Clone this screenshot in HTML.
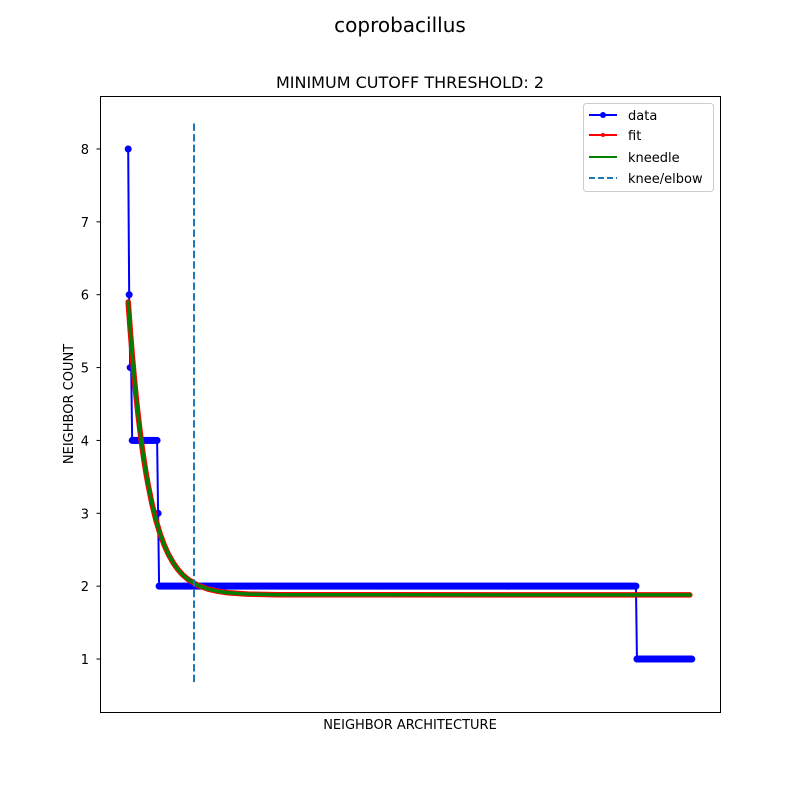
<!DOCTYPE html>
<html><head><meta charset="utf-8"><style>
body{margin:0;background:#fff}
svg{display:block;font-family:"DejaVu Sans","Liberation Sans",sans-serif}
</style></head><body>
<svg id="chart" width="800" height="800" viewBox="0 0 800 800">
<rect width="800" height="800" fill="#fff"/>
<text x="400" y="32" font-size="20" text-anchor="middle">coprobacillus</text>
<text x="410" y="88" font-size="16" text-anchor="middle">MINIMUM CUTOFF THRESHOLD: 2</text>
<g id="marks"></g>
<rect x="100.5" y="96.5" width="620" height="616" fill="none" stroke="#000" stroke-width="1"/>
<g id="yticks"></g>
<text x="410" y="729" font-size="13" text-anchor="middle">NEIGHBOR ARCHITECTURE</text>
<text transform="translate(73,404) rotate(-90)" font-size="13" text-anchor="middle">NEIGHBOR COUNT</text>
<g>
<rect x="583.5" y="103.5" width="130" height="88" rx="3" fill="#fff" stroke="#ccc"/>
<g><line x1="589" y1="115" x2="617" y2="115" stroke="blue" stroke-width="2"/><circle cx="603" cy="115" r="3" fill="blue"/><text x="628" y="120" font-size="13">data</text></g>
<g><line x1="589" y1="135" x2="617" y2="135" stroke="red" stroke-width="2"/><circle cx="603" cy="135" r="2" fill="red"/><text x="628" y="140" font-size="13">fit</text></g>
<g><line x1="589" y1="157" x2="617" y2="157" stroke="green" stroke-width="2"/><circle cx="603" cy="157" r="1" fill="green"/><text x="628" y="162" font-size="13">kneedle</text></g>
<g><line x1="589" y1="178" x2="617" y2="178" stroke="#1f77b4" stroke-width="2" stroke-dasharray="6,3"/><text x="628" y="183" font-size="13">knee/elbow</text></g>
</g>
</svg>
<script>
const dataValues=[8,6,5,4,3,2,1];
const dataCounts=[1,1,2,26,1,479,56];
const fitIdx=[0,2,4,6,8,10,12,14,16,18,20,24,28,32,36,40,45,50,55,60,70,80,90,100,120,150,563];
const fitVals=[5.90,5.525,5.184,4.876,4.596,4.343,4.113,3.904,3.715,3.544,3.389,3.120,2.899,2.718,2.569,2.446,2.323,2.227,2.151,2.093,2.010,1.960,1.929,1.910,1.891,1.882,1.880];
const kneeX=66;
const kneeYRange=[0.66,8.35];
const yTicks=[1,2,3,4,5,6,7,8];

const NS="http://www.w3.org/2000/svg";
const X0=-28.25,X1=593.25,Y0=0.273,Y1=8.727;
function sx(i){return 100+(i-X0)/(X1-X0)*620;}
function sy(v){return 712-(v-Y0)/(Y1-Y0)*616;}
function mk(tag,attrs,parent){const e=document.createElementNS(NS,tag);for(const k in attrs)e.setAttribute(k,attrs[k]);parent.appendChild(e);return e;}
const marks=document.getElementById('marks');
const pts=[];
dataValues.forEach((v,k)=>{for(let c=0;c<dataCounts[k];c++)pts.push(v);});
const dg=mk('g',{},marks);


const dl=mk('polyline',{points:pts.map((v,i)=>sx(i)+','+sy(v)).join(' '),fill:'none',stroke:'blue','stroke-width':2},dg);


pts.forEach((v,i)=>{const c=mk('circle',{cx:sx(i),cy:sy(v),r:3.5,fill:'blue'},dg);

});
const fp=fitIdx.map((i,k)=>sx(i)+','+sy(fitVals[k])).join(' ');
const fl=mk('polyline',{points:fp,fill:'none',stroke:'red','stroke-width':5.5,'stroke-linejoin':'round','stroke-linecap':'round'},marks);


const kl=mk('polyline',{points:fp,fill:'none',stroke:'green','stroke-width':3.5,'stroke-linejoin':'round','stroke-linecap':'round'},marks);


const vl=mk('line',{x1:sx(kneeX),x2:sx(kneeX),y1:sy(kneeYRange[1]),y2:sy(kneeYRange[0]),stroke:'#1f77b4','stroke-width':2,'stroke-dasharray':'7.4,3.2'},marks);


const yt=document.getElementById('yticks');
yTicks.forEach(t=>{const g=mk('g',{},yt);


mk('line',{x1:96.5,x2:100.5,y1:sy(t),y2:sy(t),stroke:'#000'},g);
const tx=mk('text',{x:89,y:sy(t)+5,'font-size':13,'text-anchor':'end'},g);tx.textContent=t;});
</script>
</body></html>
